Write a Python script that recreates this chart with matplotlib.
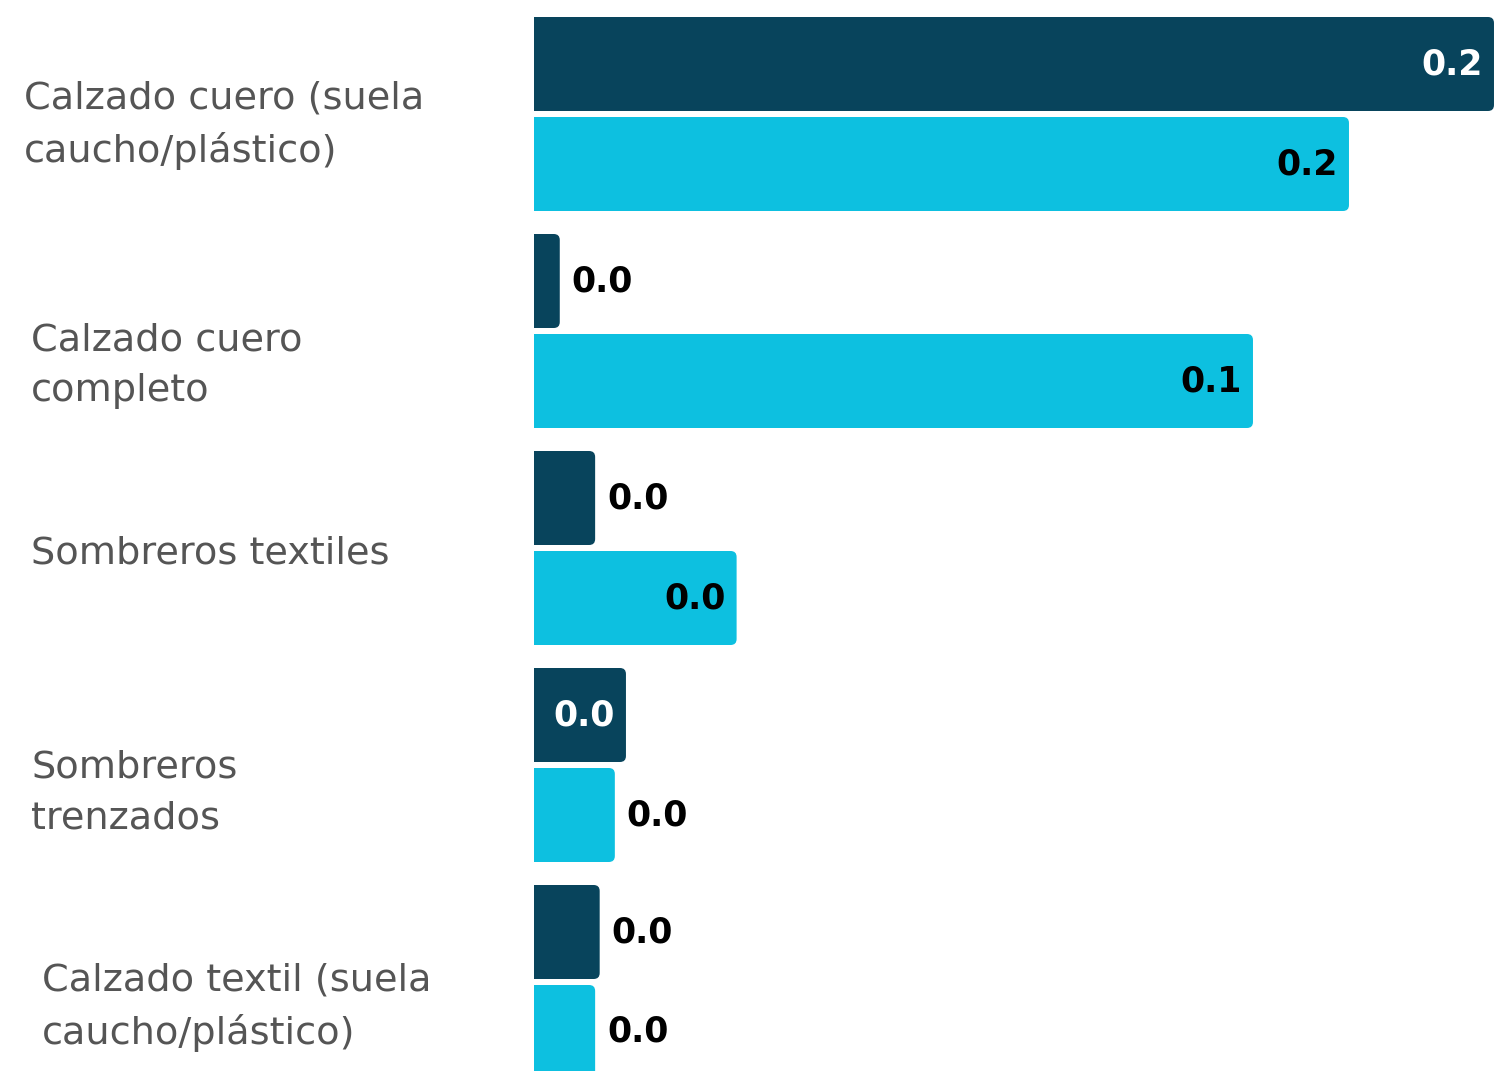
import matplotlib
matplotlib.use("Agg")
import matplotlib.pyplot as plt
from matplotlib.patches import FancyBboxPatch
import matplotlib.transforms as mtransforms

# ---- data ----
categories = [
    "Calzado cuero (suela\ncaucho/plástico)",
    "Calzado cuero\ncompleto",
    "Sombreros textiles",
    "Sombreros\ntrenzados",
    "Calzado textil (suela\ncaucho/plástico)",
]
series_dark = [0.190, 0.0051, 0.0121, 0.0182, 0.0130]
series_cyan = [0.1613, 0.1423, 0.0401, 0.0160, 0.0121]

DARK = "#08445C"
CYAN = "#0DC0E0"
GRAY = "#555555"

W, H = 1495, 1071
fig = plt.figure(figsize=(W / 100, H / 100), dpi=100)
ax = fig.add_axes([534 / W, 0, 1 - 534 / W, 1])

n = len(categories)
ypos = list(range(n))
bh = 94 / 217
off = 50 / 217

b1 = ax.barh([y - off for y in ypos], series_dark, height=bh, color=DARK)
b2 = ax.barh([y + off for y in ypos], series_cyan, height=bh, color=CYAN)

ax.set_xlim(0, 0.1902)
ax.set_ylim((H - 114) / 217, -114 / 217)
ax.axis("off")

# replace rectangles by rounded boxes (right corners rounded, left hidden by clip)
fig.canvas.draw()
px_per_x = ax.transData.transform((1, 0))[0] - ax.transData.transform((0, 0))[0]
px_per_y = abs(ax.transData.transform((0, 1))[1] - ax.transData.transform((0, 0))[1])
r_px = 6
for cont in (b1, b2):
    for rect in cont.patches:
        x0, y0 = rect.get_x(), rect.get_y()
        w, h = rect.get_width(), rect.get_height()
        pad = 10 / px_per_x
        box = FancyBboxPatch((x0 - pad, y0), w + pad, h,
                             boxstyle=f"round,pad=0,rounding_size={r_px / px_per_x}",
                             mutation_aspect=px_per_x / px_per_y,
                             facecolor=rect.get_facecolor(), edgecolor="none",
                             clip_on=True)
        ax.add_patch(box)
        rect.set_visible(False)

# value labels
num_font = dict(fontsize=25, fontweight="bold", family="DejaVu Sans")
thresh = 0.0165
for vals, yoff, inside_col in ((series_dark, -off, "white"), (series_cyan, off, "black")):
    for y, v in zip(ypos, vals):
        txt = f"{v:.1f}"
        if v > thresh:
            t = ax.text(v, y + yoff, txt, ha="right", va="center", color=inside_col, **num_font)
            t.set_transform(ax.transData + mtransforms.ScaledTranslation(-11 / 100, 0, fig.dpi_scale_trans))
        else:
            t = ax.text(v, y + yoff, txt, ha="left", va="center", color="black", **num_font)
            t.set_transform(ax.transData + mtransforms.ScaledTranslation(12 / 100, 0, fig.dpi_scale_trans))

# category labels
label_x = [24, 31, 31, 31, 42]
label_dy = [11, 35, 5, 28, 25]
for y, lab, lx, dy in zip(ypos, categories, label_x, label_dy):
    t = ax.text(lx / W, y, lab, ha="left", va="center", color=GRAY, fontsize=27.5,
                family="DejaVu Sans", linespacing=1.52)
    t.set_transform(mtransforms.blended_transform_factory(fig.transFigure, ax.transData)
                    + mtransforms.ScaledTranslation(0, -dy / 100, fig.dpi_scale_trans))

fig.savefig("out.png", dpi=100)
